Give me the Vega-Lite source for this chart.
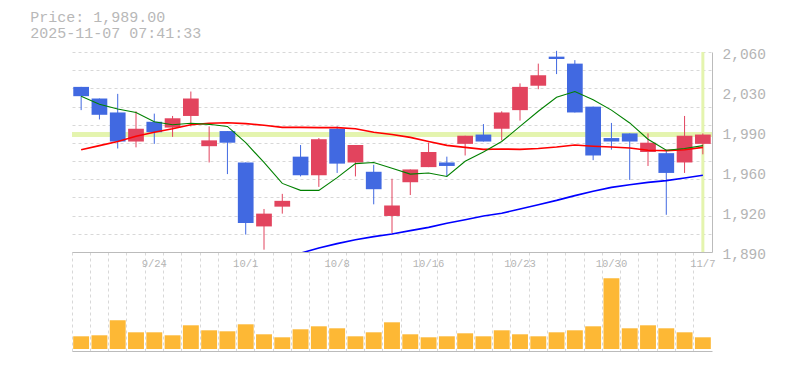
{
  "$schema": "https://vega.github.io/schema/vega-lite/v6.json",
  "padding": {"left": 30, "top": 10, "right": 5, "bottom": 5},
  "background": "white",
  "config": {"view": {"stroke": null}, "font": "Liberation Mono"},
  "title": {
    "text": ["Price: 1,989.00", "2025-11-07 07:41:33"],
    "anchor": "start",
    "dx": -40,
    "font": "Liberation Mono",
    "fontSize": 15,
    "fontWeight": "normal",
    "color": "#b8b8b8",
    "lineHeight": 16,
    "offset": 4.7
  },
  "datasets": {
    "d": [
      {"date": "2025-09-17", "o": 2030, "h": 2030, "l": 2010, "c": 2022, "v": 12700, "m5": 2022, "m25": 1976, "m75": null},
      {"date": "2025-09-18", "o": 2020, "h": 2020, "l": 2002, "c": 2006, "v": 13700, "m5": 2015, "m25": 1979.5, "m75": null},
      {"date": "2025-09-19", "o": 2008, "h": 2024, "l": 1977, "c": 1983, "v": 28700, "m5": 2011, "m25": 1983, "m75": null},
      {"date": "2025-09-22", "o": 1983, "h": 2009, "l": 1978, "c": 1994, "v": 16700, "m5": 2008, "m25": 1987.5, "m75": null},
      {"date": "2025-09-24", "o": 2000, "h": 2007, "l": 1981, "c": 1991, "v": 16700, "m5": 2000, "m25": 1991, "m75": null},
      {"date": "2025-09-25", "o": 1995, "h": 2005, "l": 1987, "c": 2003, "v": 13700, "m5": 1997.5, "m25": 1994, "m75": null},
      {"date": "2025-09-26", "o": 2005, "h": 2026, "l": 1996, "c": 2020, "v": 23700, "m5": 1998.7, "m25": 1997.5, "m75": null},
      {"date": "2025-09-29", "o": 1979, "h": 1996, "l": 1965, "c": 1984, "v": 18700, "m5": 1997.8, "m25": 1998.7, "m75": null},
      {"date": "2025-09-30", "o": 1992, "h": 1992, "l": 1955, "c": 1982, "v": 17700, "m5": 1996, "m25": 1999.2, "m75": null},
      {"date": "2025-10-01", "o": 1965, "h": 1965, "l": 1903, "c": 1913, "v": 24700, "m5": 1982, "m25": 1998.4, "m75": null},
      {"date": "2025-10-02", "o": 1910, "h": 1925, "l": 1890, "c": 1921, "v": 14700, "m5": 1965, "m25": 1997, "m75": null},
      {"date": "2025-10-03", "o": 1927, "h": 1938, "l": 1921, "c": 1932, "v": 11700, "m5": 1947, "m25": 1995.2, "m75": null},
      {"date": "2025-10-06", "o": 1970, "h": 1980, "l": 1953, "c": 1954, "v": 19700, "m5": 1941, "m25": 1995.2, "m75": 1887},
      {"date": "2025-10-07", "o": 1954, "h": 1986, "l": 1944, "c": 1985, "v": 22700, "m5": 1941, "m25": 1995, "m75": 1891.4},
      {"date": "2025-10-08", "o": 1994, "h": 1996, "l": 1956, "c": 1964, "v": 20700, "m5": 1952, "m25": 1995, "m75": 1895.2},
      {"date": "2025-10-09", "o": 1965, "h": 1980, "l": 1953, "c": 1980, "v": 12700, "m5": 1964, "m25": 1994, "m75": 1898.6},
      {"date": "2025-10-10", "o": 1957, "h": 1963, "l": 1929, "c": 1942, "v": 16700, "m5": 1965, "m25": 1991, "m75": 1901.2},
      {"date": "2025-10-14", "o": 1919, "h": 1951, "l": 1904, "c": 1928, "v": 26700, "m5": 1960, "m25": 1989, "m75": 1903.5},
      {"date": "2025-10-15", "o": 1948, "h": 1959, "l": 1937, "c": 1959, "v": 14700, "m5": 1955, "m25": 1986.6, "m75": 1906.4},
      {"date": "2025-10-16", "o": 1961, "h": 1982, "l": 1961, "c": 1974, "v": 11700, "m5": 1956, "m25": 1983, "m75": 1909.2},
      {"date": "2025-10-17", "o": 1965, "h": 1970, "l": 1953, "c": 1962, "v": 12700, "m5": 1953, "m25": 1979.7, "m75": 1912.7},
      {"date": "2025-10-20", "o": 1981, "h": 1988, "l": 1971, "c": 1988, "v": 15700, "m5": 1966, "m25": 1978, "m75": 1915.8},
      {"date": "2025-10-21", "o": 1989, "h": 1998, "l": 1983, "c": 1983, "v": 12700, "m5": 1974, "m25": 1976.3, "m75": 1919},
      {"date": "2025-10-22", "o": 1994, "h": 2009, "l": 1984, "c": 2008, "v": 18700, "m5": 1983, "m25": 1976.6, "m75": 1921.3},
      {"date": "2025-10-23", "o": 2010, "h": 2033, "l": 2001, "c": 2030, "v": 14700, "m5": 1996, "m25": 1976.3, "m75": 1925},
      {"date": "2025-10-24", "o": 2031, "h": 2050, "l": 2028, "c": 2040, "v": 12700, "m5": 2009, "m25": 1977, "m75": 1928.7},
      {"date": "2025-10-27", "o": 2056, "h": 2061, "l": 2041, "c": 2054, "v": 16700, "m5": 2021, "m25": 1978.3, "m75": 1932.4},
      {"date": "2025-10-28", "o": 2050, "h": 2053, "l": 2008, "c": 2008, "v": 18700, "m5": 2026, "m25": 1980, "m75": 1936.5},
      {"date": "2025-10-29", "o": 2013, "h": 2013, "l": 1967, "c": 1971, "v": 22700, "m5": 2019, "m25": 1979, "m75": 1940.2},
      {"date": "2025-10-30", "o": 1986, "h": 1999, "l": 1976, "c": 1983, "v": 70700, "m5": 2010, "m25": 1978.3, "m75": 1943.6},
      {"date": "2025-10-31", "o": 1990, "h": 1990, "l": 1950, "c": 1983, "v": 20700, "m5": 1999, "m25": 1977.5, "m75": 1945.9},
      {"date": "2025-11-04", "o": 1974, "h": 1990, "l": 1962, "c": 1982, "v": 23700, "m5": 1985, "m25": 1975.5, "m75": 1947.9},
      {"date": "2025-11-05", "o": 1973, "h": 1976, "l": 1920, "c": 1956, "v": 20700, "m5": 1975.5, "m25": 1975.2, "m75": 1949.4},
      {"date": "2025-11-06", "o": 1965, "h": 2005, "l": 1956, "c": 1988, "v": 16700, "m5": 1977, "m25": 1976, "m75": 1951.7},
      {"date": "2025-11-07", "o": 1981, "h": 1990, "l": 1972, "c": 1989, "v": 11700, "m5": 1979.5, "m25": 1978, "m75": 1954}
    ]
  },
  "bounds": "flush",
  "spacing": 0,
  "vconcat": [
    {
      "width": 640,
      "height": 200,
      "data": {"name": "d"},
      "layer": [
        {
          "mark": {"type": "rule", "color": "#e4f4ae", "strokeWidth": 3.5},
          "encoding": {
            "y": {"datum": 1989, "type": "quantitative", "scale": {"domain": [1888, 2060], "nice": false, "zero": false}, "axis": null}
          }
        },
        {
          "transform": [{"filter": "datum.date === '2025-11-07'"}],
          "mark": {"type": "rule", "color": "#e4f4ae", "strokeWidth": 3},
          "encoding": {
            "x": {"field": "date", "type": "ordinal", "scale": {"type": "band", "paddingInner": 0, "paddingOuter": 0}, "axis": null}
          }
        },
        {
          "mark": {"type": "rule", "strokeWidth": 1},
          "encoding": {
            "x": {"field": "date", "type": "ordinal", "scale": {"type": "band", "paddingInner": 0, "paddingOuter": 0},
              "axis": {"orient": "bottom", "grid": true, "gridDash": [3, 3], "gridColor": "#d8d8d8", "bandPosition": 0, "labels": false, "ticks": false, "tickSize": 0, "domain": true, "domainColor": "#bbbbbb", "title": null}},
            "y": {"field": "l", "type": "quantitative", "scale": {"domain": [1888, 2060], "nice": false, "zero": false},
              "axis": {"orient": "left", "values": [1888, 1903.636, 1919.273, 1934.909, 1950.545, 1966.182, 1981.818, 1997.455, 2013.091, 2028.727, 2044.364, 2060], "grid": true, "gridDash": [3, 3], "gridColor": "#d8d8d8", "labels": false, "ticks": false, "tickSize": 0, "domain": false, "title": null}},
            "y2": {"field": "h"},
            "color": {"condition": {"test": "datum.c > datum.o", "value": "#e2445e"}, "value": "#4169e1"}
          }
        },
        {
          "mark": {"type": "bar", "width": {"band": 0.86}},
          "encoding": {
            "x": {"field": "date", "type": "ordinal", "scale": {"type": "band", "paddingInner": 0, "paddingOuter": 0}, "axis": null},
            "y": {"field": "o", "type": "quantitative", "scale": {"domain": [1888, 2060], "nice": false, "zero": false},
              "axis": {"orient": "right", "values": [1888, 1922.4, 1956.8, 1991.2, 2025.6, 2060], "labelExpr": "format(round(datum.value / 10) * 10, ',')", "grid": false, "ticks": false, "tickSize": 0, "domain": true, "domainColor": "#bbbbbb", "labelPadding": 10, "labelFont": "Liberation Mono", "labelFontSize": 14.5, "labelColor": "#b4b4b4", "labelOffset": 2, "labelFlush": false, "labelOverlap": false, "labelBound": false, "title": null}},
            "y2": {"field": "c"},
            "color": {"condition": {"test": "datum.c > datum.o", "value": "#e2445e"}, "value": "#4169e1"}
          }
        },
        {
          "mark": {"type": "line", "color": "#ff0000", "strokeWidth": 1.6},
          "encoding": {
            "x": {"field": "date", "type": "ordinal", "scale": {"type": "band", "paddingInner": 0, "paddingOuter": 0}, "axis": null},
            "y": {"field": "m25", "type": "quantitative", "scale": {"domain": [1888, 2060], "nice": false, "zero": false}, "axis": null}
          }
        },
        {
          "mark": {"type": "line", "color": "#008000", "strokeWidth": 1.1},
          "encoding": {
            "x": {"field": "date", "type": "ordinal", "scale": {"type": "band", "paddingInner": 0, "paddingOuter": 0}, "axis": null},
            "y": {"field": "m5", "type": "quantitative", "scale": {"domain": [1888, 2060], "nice": false, "zero": false}, "axis": null}
          }
        },
        {
          "mark": {"type": "line", "color": "#0000ff", "strokeWidth": 1.6, "clip": true},
          "encoding": {
            "x": {"field": "date", "type": "ordinal", "scale": {"type": "band", "paddingInner": 0, "paddingOuter": 0}, "axis": null},
            "y": {"field": "m75", "type": "quantitative", "scale": {"domain": [1888, 2060], "nice": false, "zero": false}, "axis": null}
          }
        }
      ]
    },
    {
      "width": 640,
      "height": 99,
      "data": {"name": "d"},
      "layer": [
        {
          "mark": {"type": "bar", "color": "#fdb835", "width": {"band": 0.87}},
          "encoding": {
            "x": {"field": "date", "type": "ordinal", "scale": {"type": "band", "paddingInner": 0, "paddingOuter": 0},
              "axis": {"orient": "bottom", "grid": true, "gridDash": [3, 3], "gridColor": "#d8d8d8", "bandPosition": 0, "labels": false, "ticks": false, "tickSize": 0, "domain": true, "domainColor": "#bbbbbb", "title": null}},
            "y": {"field": "v", "type": "quantitative", "scale": {"domain": [-2000, 97000], "nice": false, "zero": false},
              "axis": {"orient": "right", "grid": false, "labels": false, "ticks": false, "tickSize": 0, "domain": true, "domainColor": "#bbbbbb", "title": null}}
          }
        },
        {
          "mark": {"type": "bar", "opacity": 0, "width": {"band": 0.87}},
          "encoding": {
            "x": {"field": "date", "type": "ordinal", "scale": {"type": "band", "paddingInner": 0, "paddingOuter": 0},
              "axis": {"orient": "top", "values": ["2025-09-24", "2025-10-01", "2025-10-08", "2025-10-16", "2025-10-23", "2025-10-30", "2025-11-07"], "labelExpr": "toNumber(slice(datum.value, 5, 7)) + '/' + toNumber(slice(datum.value, 8, 10))", "bandPosition": 0.5, "grid": false, "ticks": false, "tickSize": 0, "domain": true, "domainColor": "#bbbbbb", "labelAngle": 0, "labelAlign": "center", "labelPadding": -11, "labelBaseline": "middle", "labelFont": "Liberation Mono", "labelFontSize": 10.5, "labelColor": "#b4b4b4", "labelOverlap": false, "labelBound": false, "labelFlush": false, "title": null}},
            "y": {"field": "v", "type": "quantitative", "scale": {"domain": [-2000, 97000], "nice": false, "zero": false}, "axis": null}
          }
        }
      ]
    }
  ]
}
